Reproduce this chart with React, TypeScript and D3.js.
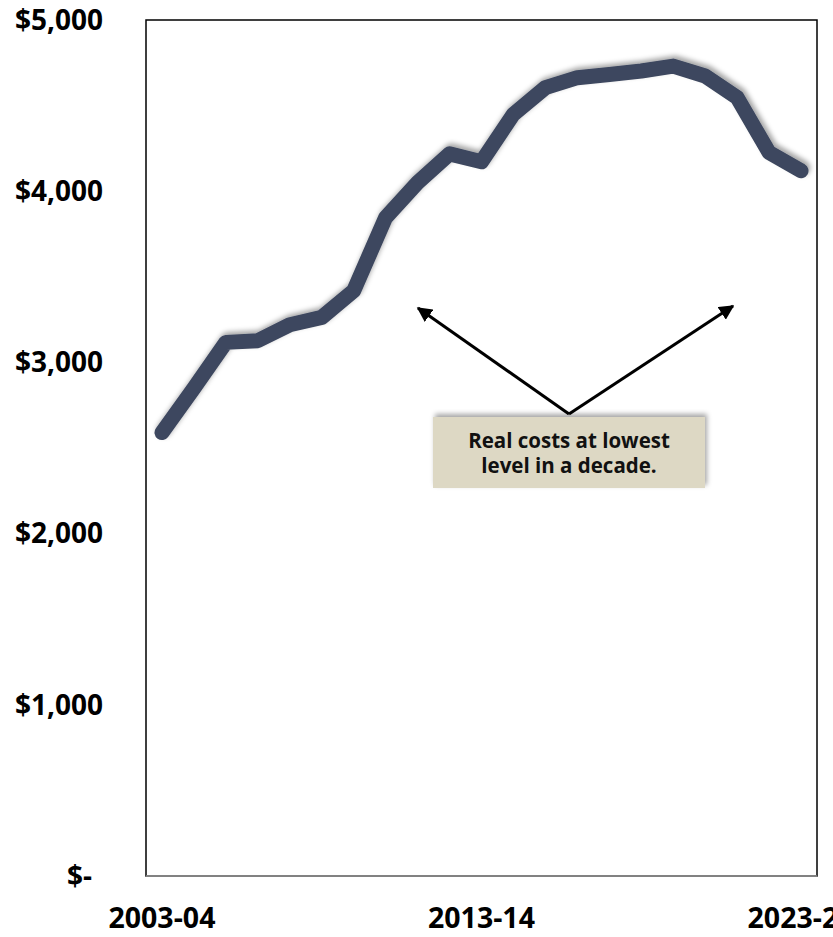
import React from "react";
import * as d3 from "d3";

const categories = [
  "2003-04", "2004-05", "2005-06", "2006-07", "2007-08", "2008-09", "2009-10",
  "2010-11", "2011-12", "2012-13", "2013-14", "2014-15", "2015-16", "2016-17",
  "2017-18", "2018-19", "2019-20", "2020-21", "2021-22", "2022-23", "2023-24",
];
const values = [
  2590, 2850, 3117, 3127, 3220, 3263, 3419, 3846, 4050, 4218, 4172,
  4450, 4605, 4663, 4682, 4702, 4731, 4673, 4547, 4226, 4119,
];
const yTicks = [0, 1000, 2000, 3000, 4000, 5000];
const xTickLabels = ["2003-04", "2013-14", "2023-24"];
const noteLines = ["Real costs at lowest", "level in a decade."];

const W = 833;
const H = 937;
const left = 146, right = 817, top = 20, bottom = 876;
const font = "'Open Sans', 'Noto Sans', sans-serif";

export default function App() {
  const x = d3.scaleBand<string>().domain(categories).range([left, right]);
  const y = d3.scaleLinear().domain([0, 5000]).range([bottom, top]);
  const cx = (c: string) => (x(c) as number) + x.bandwidth() / 2;
  const line = d3
    .line<number>()
    .x((_, i) => cx(categories[i]))
    .y((d) => y(d));

  const fmt = (v: number) => (v === 0 ? "$-" : "$" + d3.format(",")(v));

  const apex = { x: 569, y: 414 };
  const tipL = { x: 418, y: 308 };
  const tipR = { x: 733, y: 306 };

  return (
    <svg
      width={W}
      height={H}
      style={{ position: "absolute", left: 0, top: 0, background: "#fff" }}
    >
      <defs>
        <filter id="sh" x="-10%" y="-10%" width="120%" height="120%">
          <feDropShadow dx="2" dy="-3" stdDeviation="2.5" floodColor="#000" floodOpacity="0.35" />
        </filter>
        <marker id="ah" viewBox="0 0 10 10" refX="9" refY="5" markerWidth="5" markerHeight="5" orient="auto">
          <path d="M0,0 L10,5 L0,10 z" fill="#000" />
        </marker>
      </defs>

      <rect x={left} y={top} width={right - left} height={bottom - top} fill="#fff" stroke="#000" strokeWidth={1.5} />
      <line x1={left} x2={right} y1={bottom} y2={bottom} stroke="#999" strokeWidth={1.5} />

      {yTicks.map((t) => (
        <text
          key={t}
          x={t === 0 ? 92 : 103}
          y={y(t)}
          dy="0.35em"
          textAnchor="end"
          fontFamily={font}
          fontWeight="bold"
          fontSize={28}
          fill="#000"
        >
          {fmt(t)}
        </text>
      ))}

      {xTickLabels.map((c) => (
        <text
          key={c}
          x={cx(c)}
          y={928}
          textAnchor="middle"
          fontFamily={font}
          fontWeight="bold"
          fontSize={28.5}
          fill="#000"
        >
          {c}
        </text>
      ))}

      <path
        d={line(values) as string}
        fill="none"
        stroke="#3D475E"
        strokeWidth={15}
        strokeLinecap="round"
        strokeLinejoin="round"
        filter="url(#sh)"
      />

      <line x1={apex.x} y1={apex.y} x2={tipL.x} y2={tipL.y} stroke="#000" strokeWidth={3} markerEnd="url(#ah)" />
      <line x1={apex.x} y1={apex.y} x2={tipR.x} y2={tipR.y} stroke="#000" strokeWidth={3} markerEnd="url(#ah)" />

      <rect x={433} y={417} width={272} height={71} fill="#DDD8C4" filter="url(#sh)" />
      {noteLines.map((t, i) => (
        <text
          key={t}
          x={569}
          y={448 + i * 25}
          textAnchor="middle"
          fontFamily={font}
          fontWeight="bold"
          fontSize={20.5}
          fill="#111"
        >
          {t}
        </text>
      ))}
    </svg>
  );
}
